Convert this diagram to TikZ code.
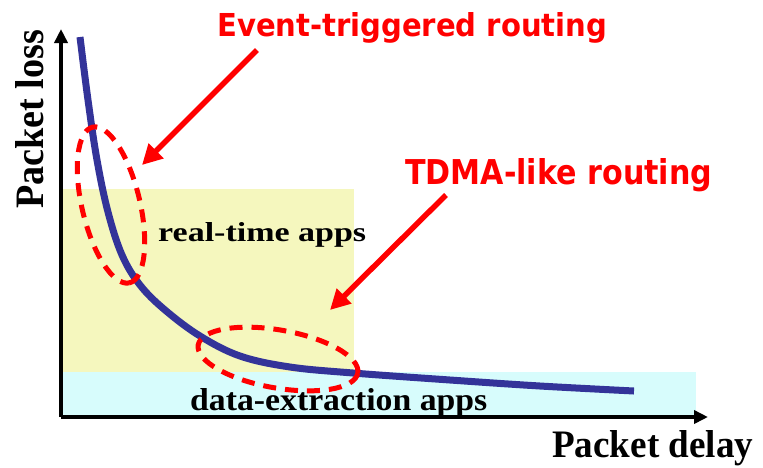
\documentclass[tikz,border=0pt]{standalone}
\usepackage{fontspec}
\setmainfont{Liberation Serif}
\newfontfamily\labelfont{DejaVu Sans}
\usetikzlibrary{arrows.meta,shapes.geometric}
\definecolor{curveblue}{RGB}{51,51,153}
\definecolor{rtyellow}{RGB}{245,247,190}
\definecolor{decyan}{RGB}{215,252,252}
\definecolor{lblred}{RGB}{255,0,0}
\tikzset{
  axisline/.style={line width=3.5pt,-{Triangle[length=14pt,width=13pt]}},
  callout/.style={draw=lblred,line width=5.5pt,-{Triangle[length=20pt,width=20pt]}},
  zone/.style={ellipse,draw=lblred,line width=5pt,dash pattern=on 13pt off 9pt,inner sep=0pt},
  redlabel/.style={text=lblred,inner sep=0pt,anchor=base west},
  blacklabel/.style={text=black,inner sep=0pt,anchor=base west},
}
\begin{document}
\begin{tikzpicture}[x=1pt,y=-1pt]
\path[use as bounding box,fill=white] (0,0) rectangle (763,467);
% shaded regions
\fill[rtyellow] (63,189) rectangle (354,372);
\fill[decyan] (63,372) rectangle (696,415);
% axes
\coordinate (O) at (61,417);
\coordinate (ytip) at (61,29);
\coordinate (xtip) at (708,417);
\draw[axisline] (O) -- (ytip);
\draw[axisline] (O) -- (xtip);
% curve
\draw[curveblue,line width=7pt] plot[smooth,tension=0.6] coordinates {
 (80,37) (88,100) (97,160) (108,212) (122,255) (140,285) (165,310)
 (200,336) (240,356) (290,367) (353,373) (450,380) (540,386) (634,391)};
% zones
\node[zone,minimum width=160pt,minimum height=58pt,rotate=-76.7] (zoneA) at (111,205) {};
\node[zone,minimum width=162pt,minimum height=58pt,rotate=-10] (zoneB) at (278,359) {};
% labels
\node[redlabel] (evt) at (217,36) {\resizebox{390pt}{24pt}{\labelfont\bfseries Event-triggered routing}};
\node[redlabel] (tdma) at (405,184) {\resizebox{307pt}{26pt}{\labelfont\bfseries TDMA-like routing}};
\node[blacklabel] (rt) at (158,241) {\resizebox{208pt}{19pt}{\bfseries real-time apps}};
\node[blacklabel] (de) at (190,410) {\resizebox{297pt}{22pt}{\bfseries data-extraction apps}};
\node[blacklabel] (xl) at (552,457) {\resizebox{201pt}{27pt}{\bfseries Packet delay}};
\node[blacklabel,rotate=90] (yl) at (43,209) {\resizebox{179pt}{28pt}{\bfseries Packet loss}};
% callout arrows
\coordinate (a1s) at (257,50);
\coordinate (a1e) at (142,165);
\coordinate (a2s) at (446,195);
\coordinate (a2e) at (330,310);
\draw[callout] (a1s) -- (a1e);
\draw[callout] (a2s) -- (a2e);
\end{tikzpicture}
\end{document}
